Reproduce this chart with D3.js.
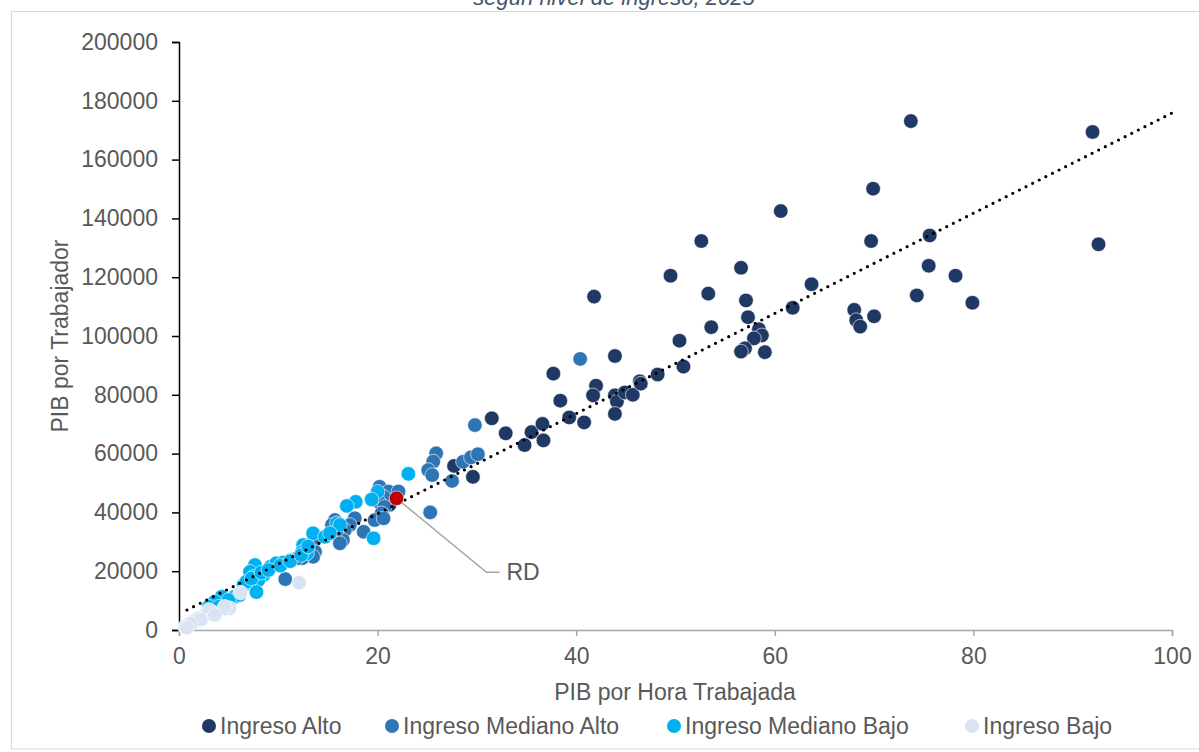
<!DOCTYPE html>
<html><head><meta charset="utf-8">
<script src="https://cdn.jsdelivr.net/npm/d3@7"></script>
<style>
html,body{margin:0;padding:0;background:#fff;}
svg{display:block;font-family:"Liberation Sans",Arial,sans-serif;}
</style></head>
<body><svg id="c" width="1199" height="752"></svg>
<script>
// ---- data (x: PIB por hora trabajada, y: PIB por trabajador) ----
const seriesNames = ["Ingreso Alto","Ingreso Mediano Alto","Ingreso Mediano Bajo","Ingreso Bajo"];
const altoX = [73.7,92.0,69.9,60.6,52.6,69.7,75.6,92.6,49.5,56.6,75.5,78.2,63.7,41.8,53.3,57.1,74.3,79.9,61.8,68.0,68.2,68.6,70.0,53.6,57.3,50.4,58.4,58.7,57.9,57.0,56.6,59.0,43.9,37.7,42.0,41.7,38.4,31.5,32.9,35.5,36.6,36.7,34.8,39.3,40.8,43.9,44.1,43.9,44.9,45.7,46.4,46.5,48.2,50.8,27.7,29.6,22.0,21.2];
const altoY = [173100,169400,150100,142500,132300,132300,134200,131200,120500,123200,123900,120500,117600,113400,114400,112100,113800,111300,109600,108900,105400,103200,106700,103000,106400,98400,102300,100200,99200,95800,94700,94500,93200,87200,83100,79800,78000,72000,66900,67300,70100,64500,62900,72300,70600,79800,77700,73500,80800,80000,84600,83800,86900,89600,55800,52100,46800,42600];
const medAltoX = [40.4,29.8,25.9,25.6,25.1,25.5,28.6,29.4,30.1,27.5,25.3,20.2,21.1,22.1,20.6,20.1,20.7,20.4,19.7,20.6,17.7,17.2,16.7,16.5,15.7,15.4,15.9,18.6,13.5,16.2,13.7,13.5,12.4,10.7,11.9,11.2];
const medAltoY = [92200,69700,60100,57300,54400,52700,57200,58700,59800,50700,40000,48700,47100,47100,45300,43700,41900,39700,37400,38000,38000,35700,34000,30600,37400,35700,34000,33400,30000,29500,26600,24900,24400,17300,24400,23600];
const medBajoX = [23.1,20.0,19.4,17.8,16.9,15.9,16.2,19.6,13.5,14.7,15.2,12.5,12.9,12.4,7.65,7.15,7.5,8.5,8.0,6.5,9.2,9.8,10.5,6.8,7.3,8.3,9.0,10.2,11.2,12.3,4.3,3.6,3.0,4.0,5.6,6.1,5.0,4.7,7.8,13.0];
const medBajoY = [53100,47000,44400,43600,42200,36300,35700,31200,32900,31700,32900,28900,26100,26600,22100,19800,18100,18700,17000,15300,21500,22700,22900,16400,17500,19500,20400,21900,23400,25500,11300,9600,7900,7900,11300,11900,10200,7500,12900,28400];
const bajoX = [12.1,6.2,5.1,4.6,3.3,2.6,1.9,1.4,0.9,0.6,3.0,3.6,2.2,1.2,0.8];
const bajoY = [16100,12700,7400,7900,6200,5100,4000,2800,1700,1100,6800,5100,3500,2200,800];
const rdPoint = {label:"RD", x:21.9, y:44800};
const trendIntercept = 5440, trendSlope = 1704, trendFrom = 0.8, trendTo = 100;
const xTicks = [0,20,40,60,80,100];
const yTicks = [0,20000,40000,60000,80000,100000,120000,140000,160000,180000,200000];
const colors = ["#1F3864","#2E75B6","#00B0F0","#DAE3F3"];
const title = "según nivel de ingreso, 2025";

const FS = 23;
const svg = d3.select("#c");
const x = d3.scaleLinear().domain([0,100]).range([179,1172]);
const y = d3.scaleLinear().domain([0,200000]).range([630,42]);

// frame + cut title
svg.append("rect").attr("x",11.5).attr("y",11.5).attr("width",1200).attr("height",737.5)
  .attr("fill","none").attr("stroke","#d9d9d9");
svg.append("text").attr("x",614).attr("y",5).attr("text-anchor","middle")
  .attr("font-style","italic").attr("font-size",22).attr("fill","#44546A").text(title);

// axes
const yAxis = d3.axisLeft(y).tickValues(yTicks).tickSize(7).tickPadding(14).tickFormat(d3.format("d"));
const gy = svg.append("g").attr("transform",`translate(${x(0)},0)`).call(yAxis);
gy.select(".domain").attr("stroke","#000").attr("stroke-width",1.5);
gy.selectAll(".tick line").attr("stroke","#000").attr("stroke-width",1.5);
gy.selectAll("text").attr("font-size",FS).attr("fill","#595959").attr("font-family","Liberation Sans, Arial");

const xAxis = d3.axisBottom(x).tickValues(xTicks).tickSize(6).tickPadding(12);
const gx = svg.append("g").attr("transform",`translate(0,${y(0)})`).call(xAxis);
gx.select(".domain").attr("stroke","#A6A6A6").attr("stroke-width",1.5);
gx.selectAll(".tick line").attr("stroke","#A6A6A6").attr("stroke-width",1.5);
gx.selectAll("text").attr("font-size",FS).attr("fill","#595959").attr("font-family","Liberation Sans, Arial");

svg.append("text").attr("x",675).attr("y",700).attr("text-anchor","middle")
  .attr("font-size",FS).attr("fill","#595959").text("PIB por Hora Trabajada");
svg.append("text").attr("transform","translate(68,336) rotate(-90)").attr("text-anchor","middle")
  .attr("font-size",FS).attr("fill","#595959").text("PIB por Trabajador");

// points
const groups = [[altoX,altoY],[medAltoX,medAltoY],[medBajoX,medBajoY],[bajoX,bajoY]];
groups.forEach((g,i)=>{
  const data = g[0].map((v,j)=>({x:v,y:g[1][j]}));
  svg.append("g").selectAll("circle").data(data).join("circle")
    .attr("cx",d=>x(d.x)).attr("cy",d=>y(d.y)).attr("r",7.3)
    .attr("fill",colors[i]).attr("stroke","#fff").attr("stroke-width",0.6);
});

// trendline
svg.append("line")
  .attr("x1",x(trendFrom)).attr("y1",y(trendIntercept+trendSlope*trendFrom))
  .attr("x2",x(trendTo)).attr("y2",y(trendIntercept+trendSlope*trendTo))
  .attr("stroke","#000").attr("stroke-width",3.2).attr("stroke-linecap","round")
  .attr("stroke-dasharray","0 7.4");

// RD leader + point
const rx = x(rdPoint.x), ry = y(rdPoint.y);
svg.append("polyline").attr("points",`${rx},${ry} ${rx+90},${ry+74} ${rx+103},${ry+74}`)
  .attr("fill","none").attr("stroke","#A6A6A6").attr("stroke-width",1.5);
svg.append("circle").attr("cx",rx).attr("cy",ry).attr("r",7.3).attr("fill","#C00000").attr("stroke","#fff").attr("stroke-width",0.6);
svg.append("text").attr("x",rx+110).attr("y",ry+82).attr("font-size",FS).attr("fill","#595959").text(rdPoint.label);

// legend
const legX = [209,392,674,972];
seriesNames.forEach((n,i)=>{
  svg.append("circle").attr("cx",legX[i]).attr("cy",726).attr("r",7).attr("fill",colors[i]);
  svg.append("text").attr("x",legX[i]+11).attr("y",734).attr("font-size",FS).attr("fill","#595959").text(n);
});
</script></body></html>
